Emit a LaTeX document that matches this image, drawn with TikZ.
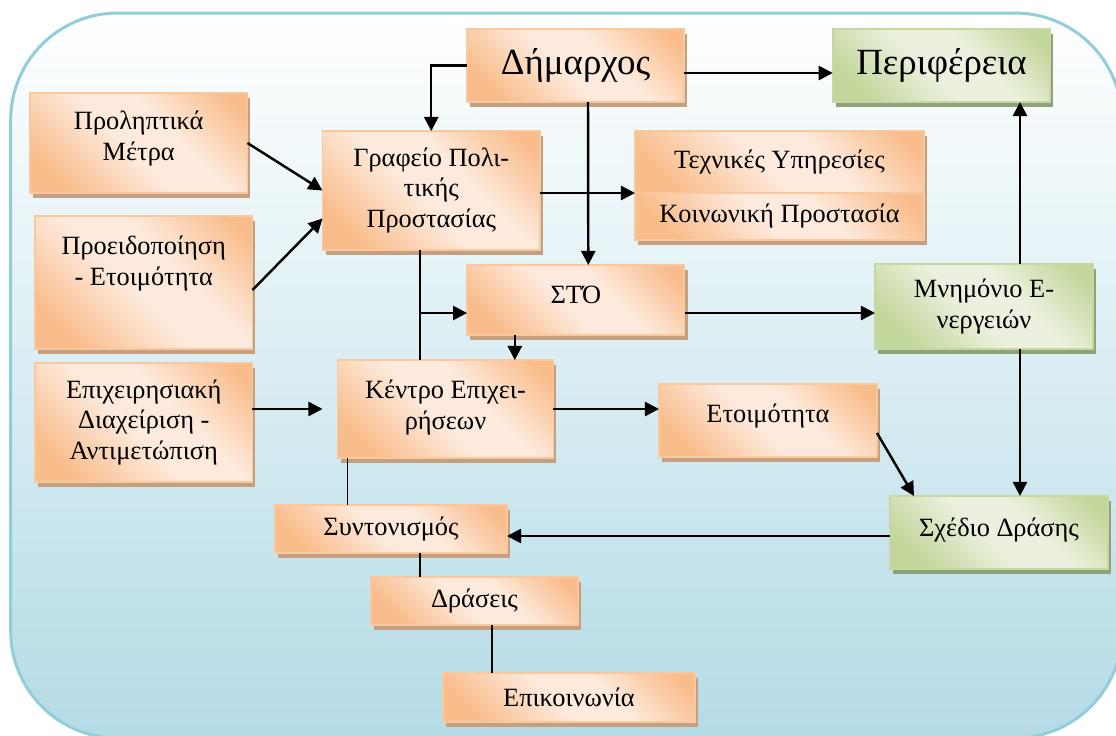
\documentclass[tikz,border=0pt]{standalone}
\usepackage{fontspec}
\setmainfont{Liberation Serif}
\usetikzlibrary{arrows.meta,shadows}

\definecolor{peachL}{HTML}{FDEADC}
\definecolor{peachD}{HTML}{F9BD8C}
\definecolor{peachB}{HTML}{F9C89E}
\definecolor{peachS}{HTML}{C49F80}
\definecolor{oliveL}{HTML}{EBF1DE}
\definecolor{oliveD}{HTML}{C3D69B}
\definecolor{oliveB}{HTML}{C6D8A0}
\definecolor{oliveS}{HTML}{8FA37B}
\definecolor{bgbot}{HTML}{B4DBE6}
\definecolor{bgline}{HTML}{92CDDC}

\pgfdeclarehorizontalshading{peachfill}{100bp}{color(0bp)=(peachD); color(24bp)=(peachD); color(46bp)=(peachL); color(60bp)=(peachL); color(80bp)=(peachD); color(100bp)=(peachD)}
\pgfdeclarehorizontalshading{olivefill}{100bp}{color(0bp)=(oliveD); color(24bp)=(oliveD); color(46bp)=(oliveL); color(60bp)=(oliveL); color(80bp)=(oliveD); color(100bp)=(oliveD)}

\tikzset{
  card/.style={line width=0.9pt, shading angle=45, minimum width=4.35cm,
    inner sep=0pt, outer sep=0pt, align=center,
    font=\fontsize{15}{17.6}\selectfont},
  pbox/.style={card, draw=peachB, shading=peachfill,
    drop shadow={fill=peachS, opacity=1, shadow xshift=0.06cm, shadow yshift=-0.1cm}},
  gbox/.style={card, draw=oliveB, shading=olivefill,
    drop shadow={fill=oliveS, opacity=1, shadow xshift=0.06cm, shadow yshift=-0.1cm}},
  big/.style={font=\fontsize{21}{24}\selectfont},
  arr/.style={line width=1.4pt, -{Triangle[length=8pt,width=8pt]}},
  link/.style={line width=0.9pt}
}

\begin{document}
\begin{tikzpicture}[x=0.02cm, y=-0.02cm]
  \useasboundingbox (0,0) rectangle (1116,735);
  % background
  \draw[line width=1.7pt, draw=bgline, top color=white, bottom color=bgbot,
    rounded corners=2.14cm] (10.7,13) rectangle (1122,738);

  % left column
  \node[pbox, minimum height=2cm] (prolipt) at (138.75,143) {Προληπτικά\\Μέτρα\\[-0.34cm]};
  \node[pbox, minimum height=2.66cm] (proeid) at (143.75,282.5) {Προειδοποίηση\\- Ετοιμότητα\\[0.24cm]};
  \node[pbox, minimum height=2.38cm] (epix) at (143.75,422.5) {Επιχειρησιακή\\Διαχείριση -\\Αντιμετώπιση};

  % middle
  \node[pbox, big, minimum height=1.46cm] (dimarchos) at (575.5,65.5) {Δήμαρχος};
  \node[pbox, minimum height=2.38cm] (grafeio) at (431.25,190.5) {Γραφείο Πολι-\\τικής\\Προστασίας};
  \node[pbox, minimum height=1.4cm] (sto) at (575.8,300) {ΣΤΌ\\[-0.42cm]};
  \node[pbox, minimum height=1.96cm, minimum width=4.32cm] (kentro) at (445.5,409) {Κέντρο Επιχει-\\ρήσεων\\[-0.44cm]};
  \node[pbox, minimum height=0.96cm, minimum width=4.64cm] (syntonismos) at (391,529) {Συντονισμός};
  \node[pbox, minimum height=0.96cm, minimum width=4.14cm] (draseis) at (474.5,601) {Δράσεις};
  \node[pbox, minimum height=0.98cm, minimum width=5.04cm] (epikoin) at (569,697.5) {Επικοινωνία};

  % right
  \node[gbox, big, minimum height=1.46cm] (perifereia) at (941.5,65.5) {Περιφέρεια};
  \node[pbox, minimum height=1.24cm, minimum width=5.78cm] (tech) at (779.5,162) {Τεχνικές Υπηρεσίες};
  \node[pbox, minimum height=0.94cm, minimum width=5.78cm] (koin) at (779.5,216.5) {Κοινωνική Προστασία};
  \node[gbox, minimum height=1.7cm, minimum width=4.36cm] (mnimonio) at (984,306.5) {Μνημόνιο Ε-\\νεργειών};
  \node[pbox, minimum height=1.46cm, minimum width=4.36cm] (etoim) at (768,420.5) {Ετοιμότητα\\[-0.31cm]};
  \node[gbox, minimum height=1.46cm, minimum width=4.36cm] (sxedio) at (999,532.5) {Σχέδιο Δράσης\\[-0.42cm]};

  \coordinate (j1) at (420,313);

  % connectors
  \draw[arr] (dimarchos.west) -| (grafeio.north);
  \draw[arr] ([yshift=-0.15cm]dimarchos.east) -- ([yshift=-0.15cm]perifereia.west);
  \draw[arr] ([xshift=0.25cm]dimarchos.south) -- ([xshift=0.25cm]sto.north);
  \draw[arr] (prolipt.east) -- (grafeio.west);
  \draw[arr] ([yshift=-0.15cm]proeid.east) -- ([yshift=-0.56cm]grafeio.west);
  \draw[arr] (tech.south west -| grafeio.east) -- (tech.south west);
  \draw[link] (grafeio.south -| j1) -- (kentro.north -| j1);
  \draw[arr] (j1) -- (j1 -| sto.west);
  \draw[arr] ([xshift=-1.22cm]sto.south) -- ([xshift=-1.22cm]sto.south |- kentro.north);
  \draw[arr] (j1 -| sto.east) -- (j1 -| mnimonio.west);
  \draw[arr] ([xshift=0.72cm]mnimonio.north) -- ([xshift=0.72cm]mnimonio.north |- perifereia.south);
  \draw[arr] ([xshift=0.72cm]mnimonio.south) -- ([xshift=0.72cm]mnimonio.south |- sxedio.north);
  \draw[arr, shorten >=0.3cm] (epix.east |- kentro.west) -- (kentro.west);
  \draw[arr] (kentro.east) -- (kentro.east -| etoim.west);
  \draw[arr] ([yshift=-0.25cm]etoim.east) -- ([xshift=0.48cm]sxedio.north west);
  \draw[arr] ([yshift=-0.07cm]sxedio.west) -- ([yshift=-0.07cm]sxedio.west -| syntonismos.east);
  \draw[link] ([xshift=0.2cm]kentro.south west) -- ([xshift=0.2cm]kentro.south west |- syntonismos.north);
  \draw[link] ([xshift=0.58cm]syntonismos.south) -- ([xshift=0.58cm]syntonismos.south |- draseis.north);
  \draw[link] ([xshift=0.35cm]draseis.south) -- ([xshift=0.35cm]draseis.south |- epikoin.north);
\end{tikzpicture}
\end{document}
